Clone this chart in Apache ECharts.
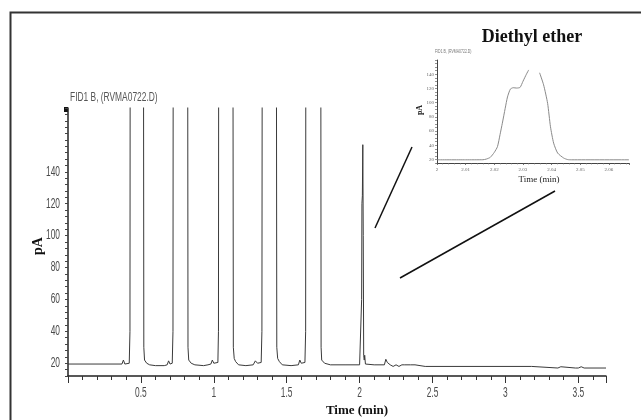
<!DOCTYPE html>
<html>
<head>
<meta charset="utf-8">
<script src="https://cdn.jsdelivr.net/npm/echarts@6/dist/echarts.min.js"></script>
<style>
  html, body { margin: 0; padding: 0; background: #fff; }
  #chart { width: 641px; height: 420px; }
</style>
</head>
<body>
<div id="chart"></div>
<script>
// main chromatogram, FID1 B (time in min, signal in pA); off-scale peaks go past the top
const timeMain = [
    0, 0.37, 0.38, 0.39, 0.42, 0.425, 0.428,
    0.516, 0.52, 0.525, 0.53, 0.54, 0.56, 0.6, 0.66, 0.68, 0.69, 0.7, 0.715, 0.72, 0.723,
    0.819, 0.823, 0.828, 0.835, 0.845, 0.87, 0.93, 0.96, 0.98, 0.99, 1.0, 1.028, 1.032, 1.035,
    1.129, 1.134, 1.14, 1.15, 1.17, 1.22, 1.27, 1.285, 1.3, 1.325, 1.33, 1.334,
    1.427, 1.432, 1.438, 1.45, 1.47, 1.53, 1.58, 1.59, 1.6, 1.625, 1.63, 1.632,
    1.732, 1.736, 1.74, 1.76, 1.8, 1.9, 2.0, 2.01, 2.014, 2.016, 2.019, 2.022, 2.025, 2.028, 2.032, 2.035, 2.04,
    2.1, 2.17, 2.18, 2.19, 2.21, 2.23, 2.25, 2.27, 2.29, 2.31, 2.35, 2.36, 2.38, 2.39, 2.45,
    3.18, 3.19, 3.36, 3.38, 3.39, 3.48, 3.49, 3.5, 3.52, 3.54, 3.69
];
const signalMain = [
    19.5, 19.5, 22, 19.5, 20, 40, 400,
    400, 30, 22, 23, 20, 19, 18.5, 18.5, 19, 21.5, 19.5, 20, 40, 400,
    400, 30, 22, 21.5, 20, 19, 18.5, 19, 19.5, 22, 20, 20.5, 40, 400,
    400, 30, 23, 21, 19, 18.5, 19, 21.5, 20, 20.5, 40, 400,
    400, 30, 23, 21, 19, 18.5, 19, 22, 20, 20.5, 40, 400,
    400, 30, 22, 20, 19, 19, 19, 19.5, 60, 120, 125, 157, 100, 25, 22, 25, 19.5,
    19, 19, 22.5, 20.5, 19, 18, 19, 18, 19, 19, 19, 18, 19, 18, 18,
    18, 17, 17, 17.8, 17, 17, 17.8, 17, 17.8, 17, 17
];

// inset: diethyl ether peak, zoomed in (null = top of peak cut off on the recorder)
const timeInset = [
    2.0, 2.01, 2.016, 2.0172, 2.0186, 2.02, 2.0211, 2.022, 2.0228, 2.0238, 2.0246, 2.0256,
    2.0266, 2.0278, 2.029, 2.03, 2.0312, 2.032, 2.034, 2.0358, 2.0372, 2.0386,
    2.0396, 2.0407, 2.0421, 2.0442, 2.0456, 2.047, 2.067
];
const signalInset = [
    19.5, 19.5, 19.6, 20.5, 23, 30, 38, 55, 71, 92, 108, 119,
    121, 120.5, 121.5, 130, 140, 146, null, 142, 125, 99,
    66, 43, 29, 22, 19.8, 19.5, 19.5
];

const mainYLabels = [20, 40, 60, 80, 100, 120, 140];
const mainXLabels = [0.5, 1, 1.5, 2, 2.5, 3, 3.5];
const insetYLabels = [20, 40, 60, 80, 100, 120, 140];

const zip = (xs, ys) => xs.map((x, i) => [x, ys[i]]);

const sans = "'Liberation Sans', Arial, sans-serif";
const serif = "'Liberation Serif', 'DejaVu Serif', serif";

const chart = echarts.init(document.getElementById('chart'), null, {renderer: 'canvas'});

const baseGraphics = [
    // outer frame (only top and left fit in the picture)
    {type: 'rect', shape: {x: 10.5, y: 12.5, width: 700, height: 500},
        style: {fill: 'none', stroke: '#333', lineWidth: 2}, silent: true},
    {type: 'rect', shape: {x: 64, y: 107, width: 4, height: 5}, style: {fill: '#111'}},
    {type: 'text', x: 70, y: 98, scaleX: 0.7,
        style: {text: 'FID1 B, (RVMA0722.D)', fill: '#555', font: '12px ' + sans, verticalAlign: 'middle'}},
    {type: 'text', x: 38, y: 246, rotation: Math.PI / 2,
        style: {text: 'pA', fill: '#111', font: 'bold 14px ' + serif, align: 'center', verticalAlign: 'middle'}},
    {type: 'text', x: 357, y: 411,
        style: {text: 'Time (min)', fill: '#111', font: 'bold 13px ' + serif, align: 'center', verticalAlign: 'middle'}},
    // inset texts
    {type: 'text', x: 532, y: 37,
        style: {text: 'Diethyl ether', fill: '#111', font: 'bold 18px ' + serif, align: 'center', verticalAlign: 'middle'}},
    {type: 'text', x: 435, y: 52, scaleX: 0.7,
        style: {text: 'FID1 B, (RVMA0722.D)', fill: '#777', font: '5px ' + sans, verticalAlign: 'middle'}},
    {type: 'text', x: 420, y: 110, rotation: Math.PI / 2,
        style: {text: 'pA', fill: '#222', font: 'bold 8px ' + serif, align: 'center', verticalAlign: 'middle'}},
    {type: 'text', x: 539, y: 180,
        style: {text: 'Time (min)', fill: '#222', font: '9px ' + serif, align: 'center', verticalAlign: 'middle'}},
    // pointer lines from peak to inset
    {type: 'line', shape: {x1: 375, y1: 228, x2: 412, y2: 147}, style: {stroke: '#111', lineWidth: 1.5}},
    {type: 'line', shape: {x1: 400, y1: 278, x2: 555, y2: 191}, style: {stroke: '#111', lineWidth: 1.5}}
];

chart.setOption({
    animation: false,
    backgroundColor: '#fff',
    grid: [
        {left: 68, right: 35, top: 108, bottom: 44},
        {left: 437, right: 12, top: 60, bottom: 257}
    ],
    xAxis: [
        {
            // main, minor ticks every 0.1
            type: 'value', gridIndex: 0, position: 'bottom',
            min: 0, max: 3.69, interval: 0.1,
            axisLine: {show: true, lineStyle: {color: '#222', width: 1.5}},
            axisTick: {show: true, length: 4, lineStyle: {color: '#333'}},
            axisLabel: {show: false},
            splitLine: {show: false}
        },
        {
            // main, ticks every 0.5 (labels drawn condensed below)
            type: 'value', gridIndex: 0, position: 'bottom',
            min: 0, max: 3.69, interval: 0.5,
            axisLine: {show: false},
            axisTick: {show: true, length: 7, lineStyle: {color: '#333'}},
            axisLabel: {show: false},
            splitLine: {show: false}
        },
        {
            type: 'value', gridIndex: 1, position: 'bottom',
            min: 2, max: 2.067, interval: 0.01,
            axisLine: {show: true, lineStyle: {color: '#444', width: 1}},
            axisTick: {show: true, length: 2, lineStyle: {color: '#555', width: 0.8}},
            minorTick: {show: true, splitNumber: 5, length: 1.5, lineStyle: {color: '#777', width: 0.6}},
            axisLabel: {
                show: true, margin: 4, color: '#666', fontSize: 5, fontFamily: serif,
                showMaxLabel: false,
                formatter: v => v === 2 ? '2' : v.toFixed(2)
            },
            splitLine: {show: false}
        }
    ],
    yAxis: [
        {
            type: 'value', gridIndex: 0,
            min: 12, max: 180, interval: 4,
            axisLine: {show: true, lineStyle: {color: '#222', width: 1.5}},
            axisTick: {show: true, length: 3, lineStyle: {color: '#444'}},
            axisLabel: {show: false},
            splitLine: {show: false}
        },
        {
            type: 'value', gridIndex: 1,
            min: 15, max: 160, interval: 5,
            axisLine: {show: true, lineStyle: {color: '#444', width: 1}},
            axisTick: {show: true, length: 2, lineStyle: {color: '#666', width: 0.7}},
            axisLabel: {
                show: true, margin: 3, color: '#666', fontSize: 5, fontFamily: serif,
                formatter: v => insetYLabels.includes(v) ? String(v) : ''
            },
            splitLine: {show: false}
        }
    ],
    series: [
        {
            type: 'line', xAxisIndex: 0, yAxisIndex: 0,
            data: zip(timeMain, signalMain),
            showSymbol: false, clip: true,
            lineStyle: {color: '#3a3a3a', width: 1}
        },
        {
            type: 'line', xAxisIndex: 2, yAxisIndex: 1,
            data: zip(timeInset, signalInset),
            showSymbol: false, clip: true, smooth: 0.2, connectNulls: false,
            lineStyle: {color: '#8a8a8a', width: 1}
        }
    ],
    graphic: baseGraphics
});

// condensed tick labels of the main chart, placed through the axes' own scales
const yAxisX = chart.convertToPixel({xAxisIndex: 0}, 0);
const xAxisY = chart.convertToPixel({yAxisIndex: 0}, 12);
const labelGraphics = [];
mainXLabels.forEach(v => {
    labelGraphics.push({
        type: 'text', x: chart.convertToPixel({xAxisIndex: 1}, v), y: xAxisY + 17, scaleX: 0.6,
        style: {text: String(v), fill: '#4a4a4a', font: '14px ' + sans, align: 'center', verticalAlign: 'middle'}
    });
});
mainYLabels.forEach(v => {
    labelGraphics.push({
        type: 'text', x: yAxisX - 8, y: chart.convertToPixel({yAxisIndex: 0}, v), scaleX: 0.6,
        style: {text: String(v), fill: '#4a4a4a', font: '14px ' + sans, align: 'right', verticalAlign: 'middle'}
    });
});
chart.setOption({graphic: baseGraphics.concat(labelGraphics)});
</script>
</body>
</html>
